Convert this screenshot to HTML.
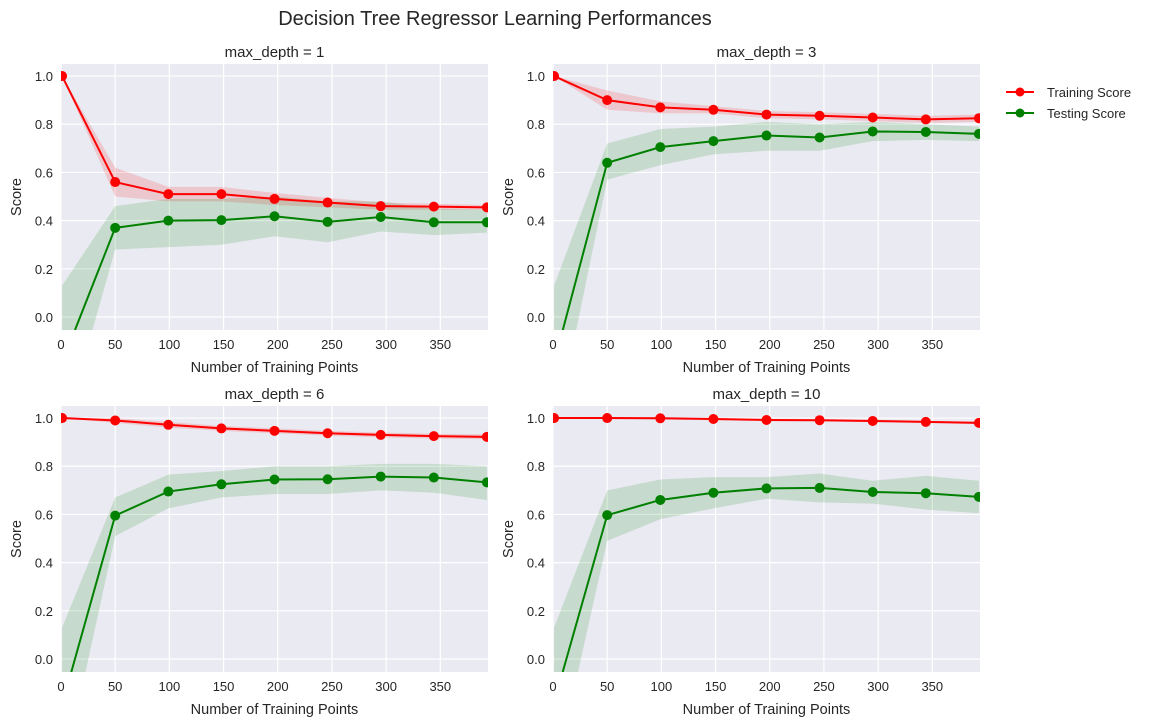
<!DOCTYPE html>
<html><head><meta charset="utf-8">
<style>
html,body{margin:0;padding:0;background:#fff;overflow:hidden;width:1151px;height:727px;position:relative;}
svg{display:block;position:absolute;left:0;top:0;font-family:"Liberation Sans",Arial,sans-serif;}
</style></head>
<body>
<svg id="fig" width="1151" height="727" viewBox="0 0 1151 727" xmlns="http://www.w3.org/2000/svg" overflow="hidden">
<text x="495" y="25" font-size="20" text-anchor="middle" fill="#262626">Decision Tree Regressor Learning Performances</text>
<g>
  <g>
    <line x1="1006" y1="92" x2="1034" y2="92" stroke="#ff0000" stroke-width="2"/>
    <circle cx="1020" cy="92" r="4.5" fill="#ff0000"/>
    <text x="1047" y="97" font-size="13" fill="#262626">Training Score</text>
  </g>
  <g>
    <line x1="1006" y1="113" x2="1034" y2="113" stroke="#008000" stroke-width="2"/>
    <circle cx="1020" cy="113" r="4.5" fill="#008000"/>
    <text x="1047" y="118" font-size="13" fill="#262626">Testing Score</text>
  </g>
</g>
</svg>
<script>
const sizes = [1, 50, 99, 148, 197, 246, 295, 344, 393];
const depths = [1, 3, 6, 10];
const xTicks = [0, 50, 100, 150, 200, 250, 300, 350];
const yTicks = [0.0, 0.2, 0.4, 0.6, 0.8, 1.0];
const trainD1 = [1.0, 0.56, 0.51, 0.51, 0.49, 0.475, 0.46, 0.458, 0.455];
const trainD1Lo = [1.0, 0.50, 0.48, 0.48, 0.465, 0.455, 0.445, 0.445, 0.445];
const trainD1Hi = [1.0, 0.62, 0.54, 0.54, 0.515, 0.495, 0.475, 0.47, 0.465];
const testD1 = [-0.19, 0.37, 0.40, 0.402, 0.418, 0.395, 0.415, 0.393, 0.393];
const testD1Lo = [-0.5, 0.28, 0.29, 0.30, 0.335, 0.31, 0.355, 0.34, 0.35];
const testD1Hi = [0.13, 0.46, 0.49, 0.49, 0.50, 0.48, 0.48, 0.45, 0.445];
const trainD3 = [1.0, 0.90, 0.87, 0.86, 0.84, 0.835, 0.828, 0.82, 0.825];
const trainD3Lo = [1.0, 0.86, 0.845, 0.845, 0.825, 0.82, 0.813, 0.805, 0.81];
const trainD3Hi = [1.0, 0.94, 0.895, 0.875, 0.855, 0.85, 0.843, 0.835, 0.84];
const testD3 = [-0.19, 0.64, 0.705, 0.73, 0.753, 0.745, 0.77, 0.768, 0.76];
const testD3Lo = [-0.5, 0.57, 0.63, 0.675, 0.69, 0.69, 0.73, 0.735, 0.73];
const testD3Hi = [0.13, 0.72, 0.78, 0.79, 0.81, 0.80, 0.81, 0.80, 0.79];
const trainD6 = [1.0, 0.99, 0.972, 0.957, 0.947, 0.937, 0.93, 0.925, 0.922];
const trainD6Lo = [1.0, 0.98, 0.96, 0.947, 0.937, 0.927, 0.92, 0.915, 0.912];
const trainD6Hi = [1.0, 1.0, 0.984, 0.967, 0.957, 0.947, 0.94, 0.935, 0.932];
const testD6 = [-0.19, 0.595, 0.695, 0.725, 0.745, 0.746, 0.757, 0.753, 0.733];
const testD6Lo = [-0.5, 0.51, 0.625, 0.67, 0.685, 0.685, 0.70, 0.69, 0.66];
const testD6Hi = [0.13, 0.67, 0.765, 0.78, 0.80, 0.80, 0.81, 0.81, 0.80];
const trainD10 = [1.0, 1.0, 0.999, 0.996, 0.992, 0.991, 0.988, 0.984, 0.98];
const trainD10Lo = [1.0, 0.995, 0.994, 0.991, 0.987, 0.986, 0.983, 0.979, 0.975];
const trainD10Hi = [1.0, 1.0, 1.0, 1.0, 0.997, 0.996, 0.993, 0.989, 0.985];
const testD10 = [-0.18, 0.597, 0.66, 0.69, 0.708, 0.71, 0.693, 0.688, 0.673];
const testD10Lo = [-0.5, 0.49, 0.58, 0.625, 0.665, 0.65, 0.645, 0.62, 0.605];
const testD10Hi = [0.13, 0.70, 0.745, 0.755, 0.755, 0.77, 0.74, 0.76, 0.74];

const panels = [
  {tr: trainD1, trLo: trainD1Lo, trHi: trainD1Hi, te: testD1, teLo: testD1Lo, teHi: testD1Hi, L: 61, T: 64},
  {tr: trainD3, trLo: trainD3Lo, trHi: trainD3Hi, te: testD3, teLo: testD3Lo, teHi: testD3Hi, L: 553, T: 64},
  {tr: trainD6, trLo: trainD6Lo, trHi: trainD6Hi, te: testD6, teLo: testD6Lo, teHi: testD6Hi, L: 61, T: 406},
  {tr: trainD10, trLo: trainD10Lo, trHi: trainD10Hi, te: testD10, teLo: testD10Lo, teHi: testD10Hi, L: 553, T: 406}
];
const W = 427, H = 266, XMAX = 394, YMIN = -0.054, YMAX = 1.05;
const NS = 'http://www.w3.org/2000/svg';
const svg = document.getElementById('fig');
function mk(tag, attrs, parent) {
  const e = document.createElementNS(NS, tag);
  for (const k in attrs) e.setAttribute(k, attrs[k]);
  parent.appendChild(e);
  return e;
}
// clip a sequence of [x,y] data points against y >= YMIN (polygon if closed)
function clipPts(pts, closed) {
  const out = [];
  const n = pts.length;
  const m = closed ? n : n - 1;
  for (let k = 0; k < m; k++) {
    const a = pts[k], b = pts[(k + 1) % n];
    const ain = a[1] >= YMIN, bin = b[1] >= YMIN;
    if (k === 0 && ain && !closed) out.push(a);
    if (ain !== bin) {
      const t = (YMIN - a[1]) / (b[1] - a[1]);
      out.push([a[0] + t * (b[0] - a[0]), YMIN]);
    }
    if (bin) out.push(b);
  }
  return out;
}
panels.forEach((p, i) => {
  const sx = v => p.L + v / XMAX * W;
  const sy = v => p.T + (YMAX - v) / (YMAX - YMIN) * H;
  const g = mk('g', {}, svg);
  
  
  const cid = 'clip' + i;
  const cp = mk('clipPath', {id: cid}, g);
  mk('rect', {x: p.L, y: p.T, width: W, height: H}, cp);
  const bg = mk('rect', {x: p.L, y: p.T, width: W, height: H, fill: '#eaeaf2'}, g);
  
  
  xTicks.forEach(t => {
    const x = sx(t);
    const gl = mk('line', {x1: x, x2: x, y1: p.T, y2: p.T + H, stroke: '#fff', 'stroke-width': 1.2}, g);
    
    
    const tl = mk('text', {x: x, y: p.T + H + 19, 'font-size': 13, 'text-anchor': 'middle', fill: '#262626'}, g);
    
    
    tl.textContent = t;
  });
  yTicks.forEach(t => {
    const y = sy(t);
    const gl = mk('line', {x1: p.L, x2: p.L + W, y1: y, y2: y, stroke: '#fff', 'stroke-width': 1.2}, g);
    
    
    const tl = mk('text', {x: p.L - 8, y: y + 5, 'font-size': 13, 'text-anchor': 'end', fill: '#262626'}, g);
    
    
    tl.textContent = t.toFixed(1);
  });
  const plot = mk('g', {'clip-path': 'url(#' + cid + ')'}, g);
  function band(lo, hi, color, name) {
    const pts = sizes.map((s, j) => [s, hi[j]]).concat(sizes.map((s, j) => [s, lo[j]]).reverse());
    const c = clipPts(pts, true);
    const d = 'M' + c.map(q => sx(q[0]) + ',' + sy(q[1])).join('L') + 'Z';
    const b = mk('path', {d: d, fill: color, 'fill-opacity': 0.15}, plot);
    
    
  }
  function series(v, color, name) {
    const c = clipPts(sizes.map((s, j) => [s, v[j]]), false);
    const l = mk('polyline', {points: c.map(q => sx(q[0]) + ',' + sy(q[1])).join(' '), fill: 'none', stroke: color, 'stroke-width': 2}, plot);
    
    
    sizes.forEach((s, j) => {
      if (v[j] < YMIN) return;
      const c2 = mk('circle', {cx: sx(s), cy: sy(v[j]), r: 5, fill: color}, plot);
      
      
    });
  }
  band(p.trLo, p.trHi, '#ff0000', 'training-score-band');
  band(p.teLo, p.teHi, '#008000', 'testing-score-band');
  series(p.tr, '#ff0000', 'training-score');
  series(p.te, '#008000', 'testing-score');
  const tt = mk('text', {x: p.L + W / 2, y: p.T - 7, 'font-size': 15, 'text-anchor': 'middle', fill: '#262626'}, g);
  
  
  tt.textContent = 'max_depth = ' + depths[i];
  const xl = mk('text', {x: p.L + W / 2, y: p.T + H + 42, 'font-size': 14.5, 'text-anchor': 'middle', fill: '#262626'}, g);
  
  
  xl.textContent = 'Number of Training Points';
  const yx = p.L - 40, yy = p.T + H / 2;
  const yl = mk('text', {x: yx, y: yy, 'font-size': 14.5, 'text-anchor': 'middle', fill: '#262626', transform: 'rotate(-90 ' + yx + ' ' + yy + ')'}, g);
  
  
  yl.textContent = 'Score';
});
</script>
</body></html>
